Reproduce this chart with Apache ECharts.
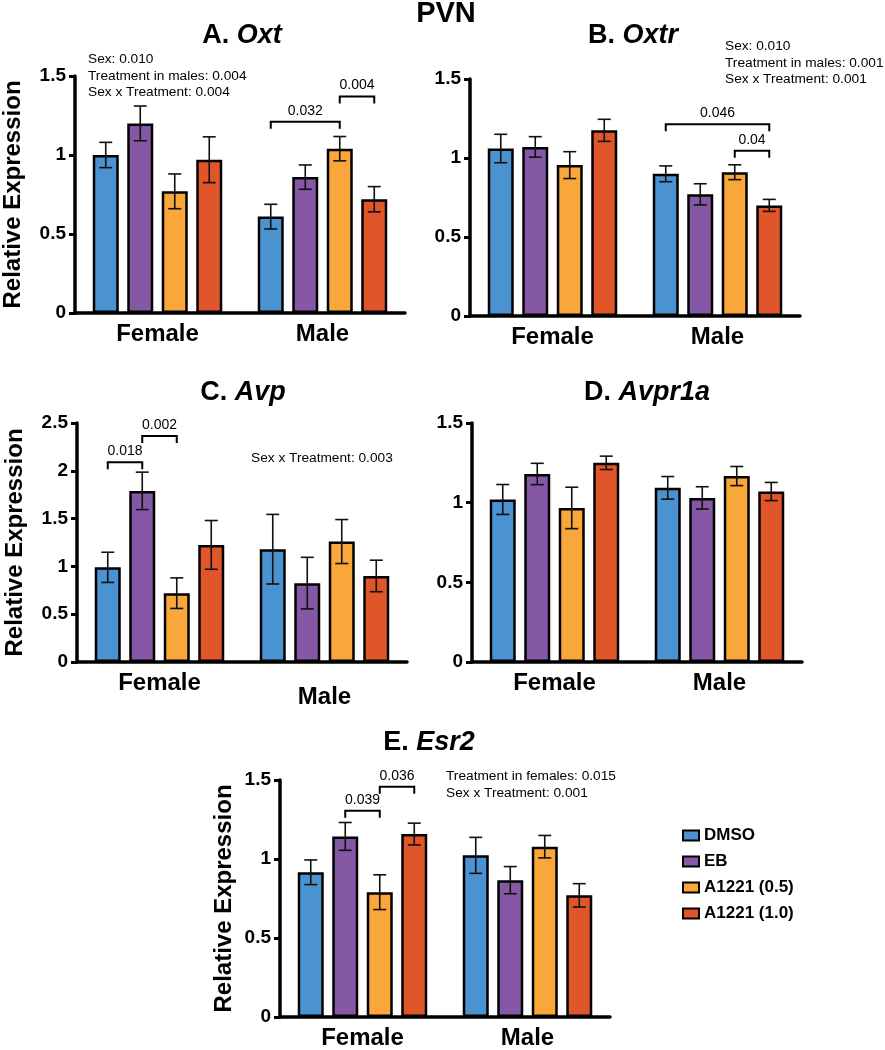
<!DOCTYPE html>
<html>
<head>
<meta charset="utf-8">
<script src="https://cdn.jsdelivr.net/npm/echarts@6/dist/echarts.min.js"></script>
<style>
html,body{margin:0;padding:0;background:#fff;}
#chart{width:885px;height:1050px;}
</style>
</head>
<body>
<div id="chart"></div>
<script>
// ---------- data ----------
const sexes = ['Female', 'Male'];
const treatments = ['DMSO', 'EB', 'A1221 (0.5)', 'A1221 (1.0)'];
const colors = ['#4a93d0', '#8558a5', '#f9a63b', '#e0552a'];

// A. Oxt
const oxtFemale = [1.00, 1.20, 0.77, 0.97];
const oxtMale = [0.61, 0.86, 1.04, 0.72];
const oxtFemaleSem = [0.08, 0.11, 0.11, 0.145];
const oxtMaleSem = [0.078, 0.077, 0.077, 0.08];
const oxtBrackets = [[1, 0, 2, 1.21, '0.032'], [1, 2, 3, 1.37, '0.004']];
const oxtStats = ['Sex: 0.010', 'Treatment in males: 0.004', 'Sex x Treatment: 0.004'];

// B. Oxtr
const oxtrFemale = [1.06, 1.07, 0.955, 1.175];
const oxtrMale = [0.90, 0.77, 0.91, 0.70];
const oxtrFemaleSem = [0.09, 0.065, 0.085, 0.07];
const oxtrMaleSem = [0.05, 0.067, 0.047, 0.038];
const oxtrBrackets = [[1, 0, 3, 1.213, '0.046'], [1, 2, 3, 1.046, '0.04']];
const oxtrStats = ['Sex: 0.010', 'Treatment in males: 0.001', 'Sex x Treatment: 0.001'];

// C. Avp
const avpFemale = [0.99, 1.79, 0.72, 1.225];
const avpMale = [1.18, 0.825, 1.26, 0.90];
const avpFemaleSem = [0.158, 0.196, 0.16, 0.255];
const avpMaleSem = [0.364, 0.27, 0.23, 0.165];
const avpBrackets = [[0, 0, 1, 2.09, '0.018'], [0, 1, 2, 2.363, '0.002']];
const avpStats = ['Sex x Treatment: 0.003'];

// D. Avpr1a
const avpr1aFemale = [1.02, 1.18, 0.967, 1.25];
const avpr1aMale = [1.093, 1.03, 1.167, 1.07];
const avpr1aFemaleSem = [0.094, 0.067, 0.13, 0.042];
const avpr1aMaleSem = [0.071, 0.07, 0.06, 0.057];
const avpr1aBrackets = [];
const avpr1aStats = [];

// E. Esr2
const esr2Female = [0.916, 1.143, 0.79, 1.158];
const esr2Male = [1.023, 0.866, 1.078, 0.77];
const esr2FemaleSem = [0.078, 0.088, 0.11, 0.069];
const esr2MaleSem = [0.114, 0.086, 0.071, 0.074];
const esr2Brackets = [[0, 1, 2, 1.306, '0.039'], [0, 2, 3, 1.457, '0.036']];
const esr2Stats = ['Treatment in females: 0.015', 'Sex x Treatment: 0.001'];

const yTicksSmall = { max: 1.5, interval: 0.5 };
const yTicksLarge = { max: 2.5, interval: 0.5 };

// ---------- layout ----------
const FONT = '"Liberation Sans", Arial, Helvetica, sans-serif';
const BAR_W = 26, BAR_GAP = 8.5, PITCH = BAR_W + BAR_GAP;

const panels = [
  { letter: 'A.', gene: 'Oxt', f: oxtFemale, m: oxtMale, fs: oxtFemaleSem, ms: oxtMaleSem, br: oxtBrackets, stats: oxtStats, ticks: yTicksSmall,
    grid: { left: 75, top: 76, width: 330, height: 237 }, yName: true, nameGap: 50, title: [242, 36], statPos: [88, 59], maleDrop: 0 },
  { letter: 'B.', gene: 'Oxtr', f: oxtrFemale, m: oxtrMale, fs: oxtrFemaleSem, ms: oxtrMaleSem, br: oxtrBrackets, stats: oxtrStats, ticks: yTicksSmall,
    grid: { left: 470, top: 79, width: 330, height: 237 }, yName: false, title: [633, 36], statPos: [725, 46], maleDrop: 0 },
  { letter: 'C.', gene: 'Avp', f: avpFemale, m: avpMale, fs: avpFemaleSem, ms: avpMaleSem, br: avpBrackets, stats: avpStats, ticks: yTicksLarge,
    grid: { left: 77, top: 423, width: 330, height: 239 }, yName: true, nameGap: 50, title: [243, 393], statPos: [251, 458], maleDrop: 14 },
  { letter: 'D.', gene: 'Avpr1a', f: avpr1aFemale, m: avpr1aMale, fs: avpr1aFemaleSem, ms: avpr1aMaleSem, br: avpr1aBrackets, stats: avpr1aStats, ticks: yTicksSmall,
    grid: { left: 472, top: 423, width: 330, height: 239 }, yName: false, title: [647, 393], statPos: [0, 0], maleDrop: 0 },
  { letter: 'E.', gene: 'Esr2', f: esr2Female, m: esr2Male, fs: esr2FemaleSem, ms: esr2MaleSem, br: esr2Brackets, stats: esr2Stats, ticks: yTicksSmall,
    grid: { left: 280, top: 780, width: 330, height: 238 }, yName: true, nameGap: 44, title: [429, 743], statPos: [446, 776], maleDrop: 0 }
];

const grids = [], xAxes = [], yAxes = [], series = [], graphics = [];

graphics.push({ type: 'text', x: 446, y: 14, style: { text: 'PVN', font: 'bold 29px ' + FONT, fill: '#000', textAlign: 'center', textVerticalAlign: 'middle' } });

panels.forEach((p, gi) => {
  grids.push(Object.assign({ containLabel: false }, p.grid));
  xAxes.push({
    type: 'category', gridIndex: gi, data: sexes,
    axisLine: { lineStyle: { color: '#000', width: 3.5 } },
    axisTick: { alignWithLabel: true, length: 6, lineStyle: { color: '#000', width: 3 } },
    axisLabel: {
      margin: 9, color: '#000',
      formatter: v => v === 'Male' ? '{m|' + v + '}' : '{f|' + v + '}',
      rich: {
        f: { fontFamily: FONT, fontWeight: 'bold', fontSize: 24, color: '#000' },
        m: { fontFamily: FONT, fontWeight: 'bold', fontSize: 24, color: '#000', padding: [p.maleDrop, 0, 0, 0] }
      }
    },
    splitLine: { show: false }
  });
  yAxes.push({
    type: 'value', gridIndex: gi, min: 0, max: p.ticks.max, interval: p.ticks.interval,
    name: p.yName ? 'Relative Expression' : '',
    nameLocation: 'middle', nameRotate: 90, nameGap: p.nameGap || 50,
    nameTextStyle: { fontFamily: FONT, fontWeight: 'bold', fontSize: 24, color: '#000' },
    axisLine: { show: true, lineStyle: { color: '#000', width: 3.5 } },
    axisTick: { show: true, length: 6, lineStyle: { color: '#000', width: 3 } },
    axisLabel: { margin: 9, fontFamily: FONT, fontWeight: 'bold', fontSize: 19, color: '#000' },
    splitLine: { show: false }
  });

  treatments.forEach((t, k) => {
    series.push({
      type: 'bar', name: t, xAxisIndex: gi, yAxisIndex: gi,
      data: [p.f[k], p.m[k]],
      barWidth: BAR_W, barGap: (BAR_GAP / BAR_W * 100) + '%',
      itemStyle: { color: colors[k], borderColor: '#000', borderWidth: 2.5 },
      emphasis: { disabled: true }, silent: true, animation: false, z: 2
    });
  });

  // error bars
  const errData = [];
  [p.f, p.m].forEach((arr, c) => {
    const sem = c === 0 ? p.fs : p.ms;
    arr.forEach((v, k) => errData.push([c, k, v, sem[k]]));
  });
  series.push({
    type: 'custom', name: 'err' + gi, xAxisIndex: gi, yAxisIndex: gi, data: errData,
    encode: { x: 0, y: 2 }, silent: true, animation: false, z: 5, clip: false,
    renderItem: (params, api) => {
      const c = api.value(0), k = api.value(1), m = api.value(2), s = api.value(3);
      const x = api.coord([c, m])[0] + (k - 1.5) * PITCH;
      const yT = api.coord([c, m + s])[1], yB = api.coord([c, m - s])[1];
      const st = { stroke: '#111', lineWidth: 1.6 };
      return { type: 'group', children: [
        { type: 'line', shape: { x1: x, y1: yT, x2: x, y2: yB }, style: st },
        { type: 'line', shape: { x1: x - 6.5, y1: yT, x2: x + 6.5, y2: yT }, style: st },
        { type: 'line', shape: { x1: x - 6.5, y1: yB, x2: x + 6.5, y2: yB }, style: st }
      ] };
    }
  });

  // significance brackets
  if (p.br.length) {
    series.push({
      type: 'custom', name: 'br' + gi, xAxisIndex: gi, yAxisIndex: gi,
      data: p.br.map(b => [b[0], b[3]]),
      encode: { x: 0, y: 1 }, silent: true, animation: false, z: 6, clip: false,
      renderItem: (params, api) => {
        const b = p.br[params.dataIndex];
        const base = api.coord([b[0], b[3]]);
        const x1 = base[0] + (b[1] - 1.5) * PITCH, x2 = base[0] + (b[2] - 1.5) * PITCH;
        const y = base[1];
        return { type: 'group', children: [
          { type: 'polyline', shape: { points: [[x1, y + 7], [x1, y], [x2, y], [x2, y + 7]] }, style: { stroke: '#000', lineWidth: 2, fill: null } },
          { type: 'text', x: (x1 + x2) / 2, y: y - 11, style: { text: b[4], font: '14px ' + FONT, fill: '#000', textAlign: 'center', textVerticalAlign: 'middle' } }
        ] };
      }
    });
  }

  // title
  graphics.push({ type: 'text', x: p.title[0], y: p.title[1], style: {
    text: '{n|' + p.letter + ' }{i|' + p.gene + '}', textAlign: 'center', textVerticalAlign: 'middle',
    rich: { n: { fontFamily: FONT, fontWeight: 'bold', fontSize: 27, fill: '#000' },
            i: { fontFamily: FONT, fontWeight: 'bold', fontStyle: 'italic', fontSize: 27, fill: '#000' } }
  } });

  // stats annotations
  p.stats.forEach((s, i) => {
    graphics.push({ type: 'text', x: p.statPos[0], y: p.statPos[1] + i * 16.8, style: {
      text: s, font: '13.7px ' + FONT, fill: '#000', textAlign: 'left', textVerticalAlign: 'middle' } });
  });
});

const chart = echarts.init(document.getElementById('chart'), null, { renderer: 'canvas' });
chart.setOption({
  backgroundColor: '#fff',
  animation: false,
  grid: grids, xAxis: xAxes, yAxis: yAxes, series: series,
  legend: {
    data: treatments, orient: 'vertical', left: 677, top: 822,
    itemWidth: 16, itemHeight: 10, itemGap: 9, icon: 'rect',
    selectedMode: false,
    textStyle: { fontFamily: FONT, fontWeight: 'bold', fontSize: 17, color: '#000' }
  },
  graphic: graphics
});
</script>
</body>
</html>
